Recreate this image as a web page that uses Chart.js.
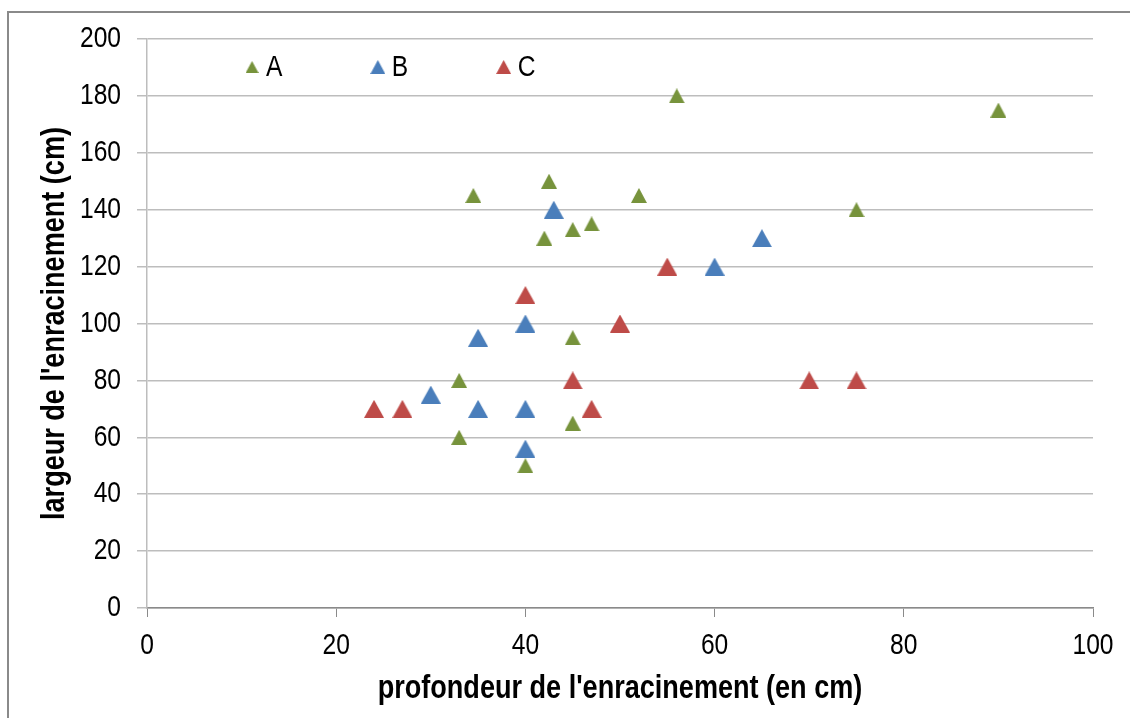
<!DOCTYPE html>
<html>
<head>
<meta charset="utf-8">
<script src="https://cdn.jsdelivr.net/npm/chart.js@4/dist/chart.umd.min.js"></script>
<style>
  html, body { margin: 0; padding: 0; background: #fff; }
  #wrap { position: relative; width: 1130px; height: 718px; overflow: hidden; }
  #frame { position: absolute; left: 7px; top: 11px; width: 1200px; height: 800px; border: 2px solid #8a8a8a; box-sizing: border-box; }
  canvas { position: absolute; left: 0; top: 0; }
</style>
</head>
<body>
<div id="wrap">
  <div id="frame"></div>
  <canvas id="chart" width="1130" height="718"></canvas>
</div>
<script>
// series A
const aX = [56, 90, 34.5, 42.5, 52, 42, 45, 47, 75, 45, 33, 33, 40, 45];
const aY = [180, 175, 145, 150, 145, 130, 133, 135, 140, 95, 80, 60, 50, 65];
// series B
const bX = [43, 65, 60, 40, 35, 30, 35, 40, 40];
const bY = [140, 130, 120, 100, 95, 75, 70, 70, 56];
// series C
const cX = [55, 40, 50, 45, 70, 75, 24, 27, 47];
const cY = [120, 110, 100, 80, 80, 80, 70, 70, 70];

const seriesNames = ["A", "B", "C"];
const xTicks = [0, 20, 40, 60, 80, 100];
const yTicks = [0, 20, 40, 60, 80, 100, 120, 140, 160, 180, 200];

const FONT = "'Liberation Sans', Arial, sans-serif";

// no narrow font installed: squeeze text horizontally to look like Arial Narrow
const NARROW = 0.82;
const proto = CanvasRenderingContext2D.prototype;
const origFill = proto.fillText;
const origMeasure = proto.measureText;
proto.fillText = function (text, x, y) {
    this.save();
    this.translate(x, y);
    this.scale(NARROW, 1);
    origFill.call(this, text, 0, 0);
    this.restore();
};
proto.measureText = function (text) {
    const m = origMeasure.call(this, text);
    return {
        width: m.width * NARROW,
        actualBoundingBoxAscent: m.actualBoundingBoxAscent,
        actualBoundingBoxDescent: m.actualBoundingBoxDescent
    };
};

function triangle(color, w, h) {
    const c = document.createElement("canvas");
    c.width = w;
    c.height = h;
    const ctx = c.getContext("2d");
    ctx.fillStyle = color;
    ctx.beginPath();
    ctx.moveTo(w / 2, 0);
    ctx.lineTo(w, h);
    ctx.lineTo(0, h);
    ctx.closePath();
    ctx.fill();
    return c;
}

const markA = triangle("#77933C", 16, 15);
const markB = triangle("#4A7EBB", 20, 18);
const markC = triangle("#BE4B48", 20, 18);
const legendMarks = [triangle("#77933C", 13, 12), triangle("#4A7EBB", 15, 14), triangle("#BE4B48", 15, 14)];

function toPoints(xs, ys) {
    return xs.map((x, i) => ({ x: x, y: ys[i] }));
}

// legend drawn inside the plot area, like the original
const innerLegend = {
    id: "innerLegend",
    afterDraw(chart) {
        const ctx = chart.ctx;
        const area = chart.chartArea;
        const w = area.right - area.left;
        const starts = [0.111, 0.244, 0.377];
        ctx.save();
        ctx.font = "30px " + FONT;
        ctx.fillStyle = "#000";
        ctx.textBaseline = "middle";
        chart.data.datasets.forEach((ds, i) => {
            const mx = area.left + w * starts[i];
            const my = area.top + 28;
            const m = legendMarks[i];
            ctx.drawImage(m, mx - m.width / 2, my - m.height / 2);
            ctx.fillText(ds.label, mx + 14, my + 1);
        });
        ctx.restore();
    }
};

new Chart(document.getElementById("chart"), {
    type: "scatter",
    data: {
        datasets: [
            { label: seriesNames[0], data: toPoints(aX, aY), pointStyle: markA },
            { label: seriesNames[1], data: toPoints(bX, bY), pointStyle: markB },
            { label: seriesNames[2], data: toPoints(cX, cY), pointStyle: markC }
        ]
    },
    options: {
        responsive: false,
        animation: false,
        layout: { padding: { top: 39, right: 37, left: 0, bottom: 0 } },
        plugins: {
            legend: { display: false },
            tooltip: { enabled: false }
        },
        scales: {
            x: {
                type: "linear",
                min: 0,
                max: 100,
                afterBuildTicks: (s) => { s.ticks = xTicks.map(v => ({ value: v })); },
                afterFit: (s) => { s.height = 110; },
                border: { color: "#8a8a8a", width: 1.5 },
                grid: { drawOnChartArea: false, drawTicks: true, tickLength: 9, color: "#8a8a8a" },
                ticks: { color: "#000", font: { family: FONT, size: 30 }, padding: 11 },
                title: {
                    display: true,
                    text: "profondeur de l'enracinement (en cm)",
                    color: "#000",
                    font: { family: FONT, size: 33, weight: "bold", lineHeight: 1 },
                    padding: { top: 0, bottom: 13 }
                }
            },
            y: {
                type: "linear",
                min: 0,
                max: 200,
                afterBuildTicks: (s) => { s.ticks = yTicks.map(v => ({ value: v })); },
                afterFit: (s) => { s.width = 147; },
                border: { color: "#bdbdbd", width: 1.5 },
                grid: { color: "#bdbdbd", lineWidth: 1.5, tickLength: 10 },
                ticks: { color: "#000", font: { family: FONT, size: 30 }, padding: 16 },
                title: {
                    display: true,
                    text: "largeur de l'enracinement (cm)",
                    color: "#000",
                    font: { family: FONT, size: 33, weight: "bold", lineHeight: 1 },
                    padding: { top: 38, bottom: 0 }
                }
            }
        }
    },
    plugins: [innerLegend]
});
</script>
</body>
</html>
